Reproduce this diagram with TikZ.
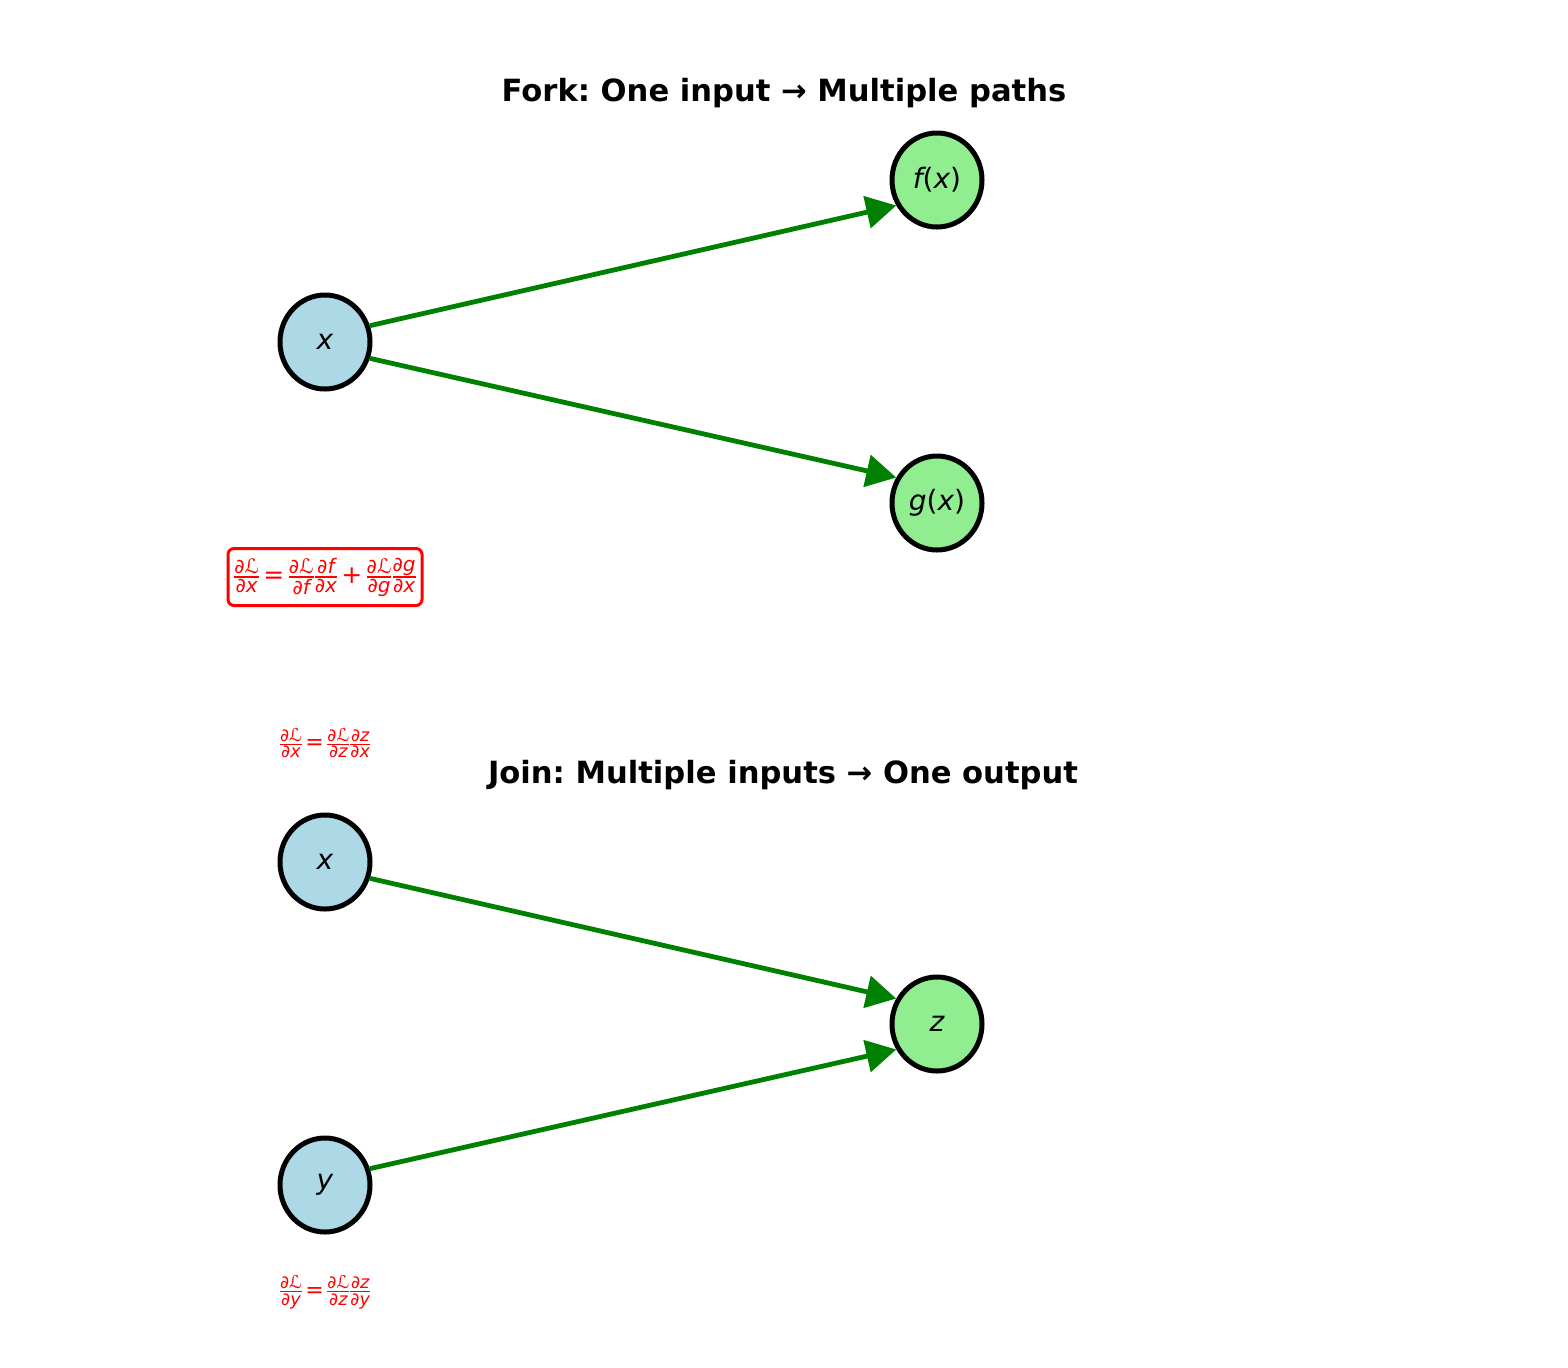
\documentclass[tikz,border=0pt]{standalone}
\usepackage{amsmath}
\usepackage{fontspec}
\setmainfont{DejaVu Sans}
\usetikzlibrary{shapes.geometric,arrows.meta}
\definecolor{lblue}{RGB}{173,216,230}
\definecolor{lgreen}{RGB}{144,238,144}
\definecolor{dgreen}{RGB}{0,128,0}
\frenchspacing
\nulldelimiterspace=0pt
\newcommand\fracfont{\fontsize{10pt}{10pt}\selectfont}
\newcommand\opsp{2.2pt}
\newcommand\fgap{0.6pt}
\newcommand\pfr[2]{\ensuremath{\genfrac{}{}{0.6pt}{}{\hbox{\fracfont #1}}{\hbox{\fracfont #2}}}}
\newcommand\op[1]{\hspace{\opsp}#1\hspace{\opsp}}
\newcommand\pd{{\itshape ∂}}
\newcommand\LL{ℒ}
\newcommand\iv[1]{{\itshape #1}}
\tikzset{
  nodebase/.style={ellipse, draw=black, line width=2.5pt, minimum width=45pt, minimum height=47pt, inner sep=0pt, font=\fontsize{14pt}{16pt}\selectfont},
  inode/.style={nodebase, fill=lblue},
  onode/.style={nodebase, fill=lgreen},
  arr/.style={draw=dgreen, line width=2.4pt, -{Triangle[length=15pt,width=16pt]}},
  ttl/.style={font=\fontsize{15.3pt}{18pt}\selectfont\bfseries, inner sep=0pt, anchor=base},
  fbox/.style={draw=red, line width=1.5pt, rounded corners=3pt, minimum width=97pt, minimum height=28.5pt, inner sep=0pt, text=red, font=\fontsize{12.5pt}{14pt}\selectfont},
  ftext/.style={inner sep=0pt, text=red, font=\fontsize{11pt}{12pt}\selectfont}
}
\begin{document}
\begin{tikzpicture}[x=0.5pt,y=-0.5pt]
\useasboundingbox (0,0) rectangle (1568,1367);
\node[ttl] (t1) at (784,101) {Fork: One input → Multiple paths};
\node[ttl] (t2) at (783,783) {Join: Multiple inputs → One output};
\node[inode] (x1) at (325,342) {\iv{x}};
\node[onode] (f) at (937,180) {\iv{f}(\iv{x})};
\node[onode] (g) at (937,503) {\iv{g}(\iv{x})};
\node[inode] (x2) at (325,862) {\iv{x}};
\node[onode] (z) at (937,1024) {\iv{z}};
\node[inode] (y) at (325,1185) {\iv{y}};
\draw[arr] (x1.20) -- (f.212);
\draw[arr] (x1.-20) -- (g.148);
\draw[arr] (x2.-20) -- (z.148);
\draw[arr] (y.20) -- (z.212);
\node[fbox] (F1) at (325,577) {\pfr{\pd\LL}{\pd\iv{x}}\op{=}\pfr{\pd\LL}{\pd\iv{f}}\hspace{\fgap}\pfr{\pd\iv{f}}{\pd\iv{x}}\op{+}\pfr{\pd\LL}{\pd\iv{g}}\hspace{\fgap}\pfr{\pd\iv{g}}{\pd\iv{x}}};
\renewcommand\fracfont{\fontsize{8.8pt}{9pt}\selectfont}
\renewcommand\opsp{1.8pt}
\node[ftext] (F2) at (325,743) {\pfr{\pd\LL}{\pd\iv{x}}\op{=}\pfr{\pd\LL}{\pd\iv{z}}\hspace{\fgap}\pfr{\pd\iv{z}}{\pd\iv{x}}};
\node[ftext] (F3) at (325,1292) {\pfr{\pd\LL}{\pd\iv{y}}\op{=}\pfr{\pd\LL}{\pd\iv{z}}\hspace{\fgap}\pfr{\pd\iv{z}}{\pd\iv{y}}};
\end{tikzpicture}
\end{document}
